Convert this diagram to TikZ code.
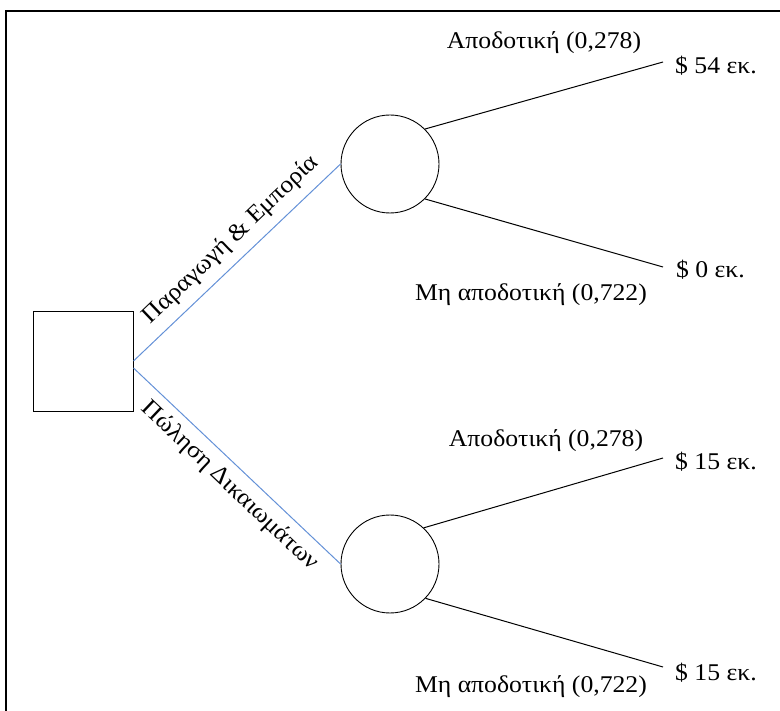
\documentclass[tikz,border=0pt]{standalone}
\usepackage{fontspec}
\setmainfont[FakeStretch=1.07]{Liberation Serif}
\definecolor{branchblue}{RGB}{100,145,215}
\begin{document}
\begin{tikzpicture}[x=1pt,y=-1pt,
  lbl/.style={font=\fontsize{24}{28}\selectfont, inner sep=0pt},
  decbox/.style={draw, line width=1pt, minimum size=100pt, inner sep=0pt},
  chance/.style={draw, circle, line width=0.9pt, minimum size=98pt, inner sep=0pt},
  branch/.style={draw=branchblue, line width=1pt},
  outc/.style={draw, line width=1pt}]
\useasboundingbox (0,0) rectangle (780,711);
\draw[line width=2pt] (6,711) -- (6,11) -- (780,11);
\node[decbox] (d) at (83,362) {};
\node[chance] (c1) at (390,164) {};
\node[chance] (c2) at (390,564) {};
\coordinate (e1) at (663,62);
\coordinate (e2) at (663,267);
\coordinate (e3) at (663,458);
\coordinate (e4) at (663,667);
\draw[branch] ([yshift=1pt]d.east) -- node[lbl, sloped, pos=0.54, above=9pt] {Παραγωγή \& Εμπορία} (c1.west);
\draw[branch] ([yshift=-6pt]d.east) -- node[lbl, sloped, pos=0.53, below=8pt] {Πώληση Δικαιωμάτων} (c2.west);
\draw[outc] (c1.45) -- (e1);
\draw[outc] (c1.-45) -- (e2);
\draw[outc] (c2.47) -- (e3);
\draw[outc] (c2.-44) -- (e4);
\node[lbl, anchor=west] (v1) at (675,66) {\$ 54 εκ.};
\node[lbl, anchor=west] (v2) at (676,270) {\$ 0 εκ.};
\node[lbl, anchor=west] (v3) at (675,462) {\$ 15 εκ.};
\node[lbl, anchor=west] (v4) at (675,673) {\$ 15 εκ.};
\node[lbl] (p1) at (544,43) {Αποδοτική (0,278)};
\node[lbl] (q1) at (531,295) {Μη αποδοτική (0,722)};
\node[lbl] (p2) at (546,441) {Αποδοτική (0,278)};
\node[lbl] (q2) at (531,687) {Μη αποδοτική (0,722)};
\end{tikzpicture}
\end{document}
